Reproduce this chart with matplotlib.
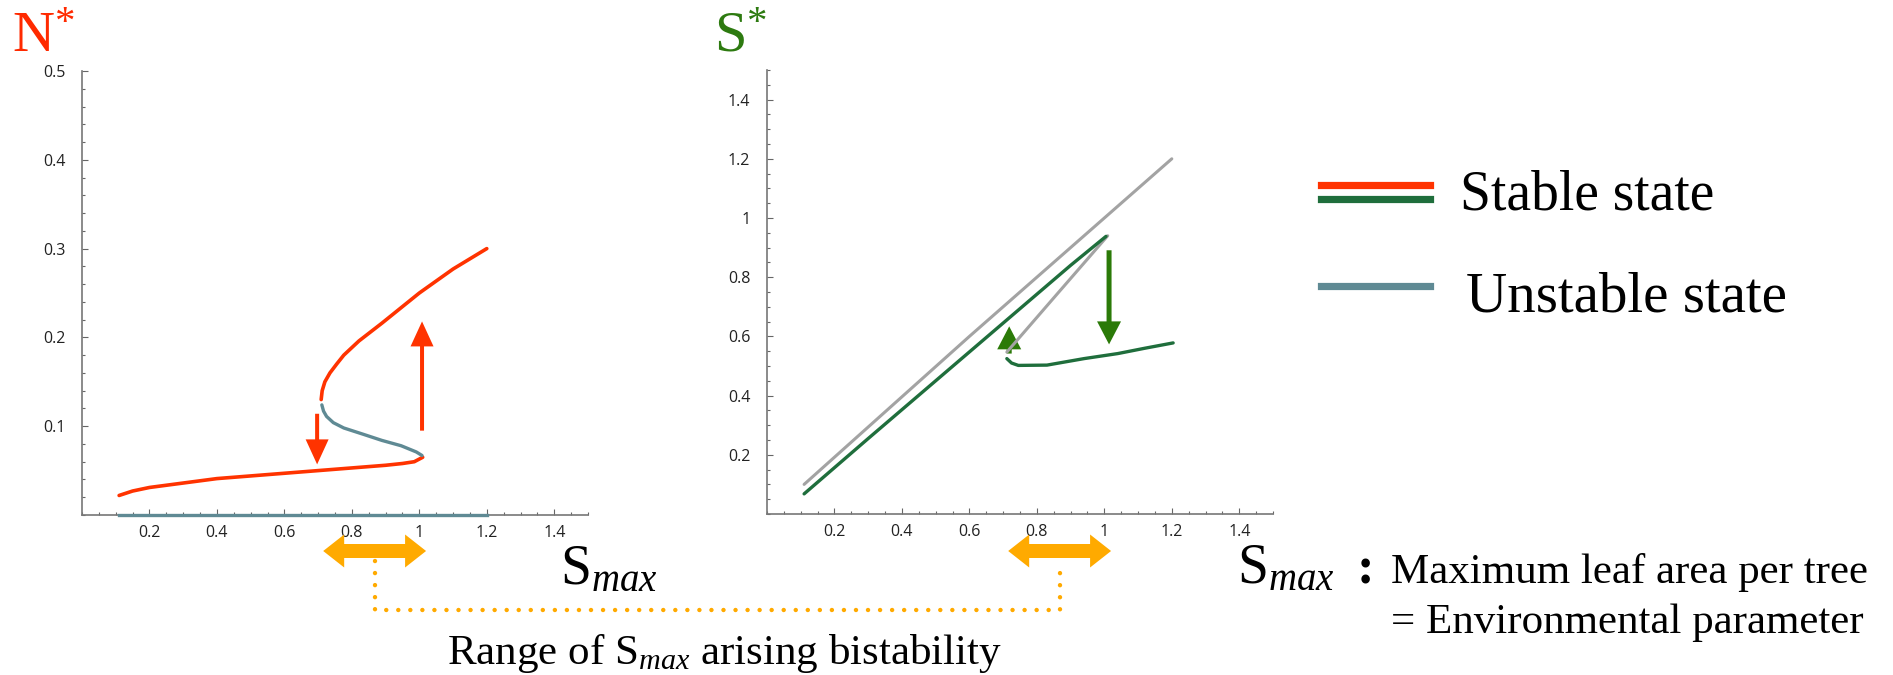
import matplotlib
matplotlib.use('Agg')
import matplotlib.pyplot as plt
import matplotlib.transforms as mtransforms
from matplotlib.patches import FancyArrow
from matplotlib.lines import Line2D
from matplotlib.ticker import MultipleLocator, FuncFormatter

plt.rcParams['mathtext.fontset'] = 'custom'
plt.rcParams['mathtext.rm'] = 'Liberation Serif'
plt.rcParams['mathtext.it'] = 'Liberation Serif:italic'
plt.rcParams['mathtext.bf'] = 'Liberation Serif:bold'

# ---- dados ----
# N* : ramo estavel inferior
smax_n_low = [0.11, 0.15, 0.2, 0.3, 0.4, 0.5, 0.6, 0.7, 0.8, 0.9, 0.95, 0.985, 1.01]
n_low = [0.022, 0.027, 0.031, 0.036, 0.041, 0.044, 0.047, 0.050, 0.053, 0.056, 0.058, 0.060, 0.065]
# N* : ramo estavel superior
smax_n_high = [0.709, 0.712, 0.72, 0.735, 0.755, 0.776, 0.821, 0.889, 1.0, 1.1, 1.2]
n_high = [0.130, 0.140, 0.150, 0.160, 0.170, 0.180, 0.196, 0.216, 0.250, 0.277, 0.300]
# N* : ramo instavel
smax_n_unst = [0.711, 0.716, 0.725, 0.745, 0.776, 0.833, 0.889, 0.946, 0.991, 1.008]
n_unst = [0.124, 0.117, 0.111, 0.104, 0.098, 0.091, 0.084, 0.078, 0.071, 0.067]
# N* = 0 (instavel)
smax_n_zero = [0.11, 1.2]
n_zero = [0.0, 0.0]

# S* : linha cinza superior (S = Smax)
smax_s_ref = [0.11, 0.6, 1.2]
s_ref = [0.10, 0.60, 1.20]
# S* : ramo estavel superior
smax_s_high = [0.11, 0.3, 0.5, 0.7, 0.9, 1.005]
s_high = [0.068, 0.255, 0.45, 0.645, 0.84, 0.938]
# S* : ramo instavel (cinza)
smax_s_unst = [0.711, 0.85, 1.01]
s_unst = [0.547, 0.73, 0.94]
# S* : ramo estavel inferior
smax_s_low = [0.711, 0.725, 0.745, 0.83, 0.94, 1.04, 1.12, 1.204]
s_low = [0.525, 0.510, 0.502, 0.503, 0.525, 0.542, 0.560, 0.578]

# setas (x, y_inicio, y_fim)
n_arrow_down = (0.697, 0.114, 0.057)
n_arrow_up = (1.008, 0.095, 0.218)
s_arrow_up = (0.718, 0.542, 0.634)
s_arrow_down = (1.014, 0.891, 0.573)

bistable_range = [0.715, 1.02]

x_ticks = [0.2, 0.4, 0.6, 0.8, 1.0, 1.2, 1.4]
n_ticks = [0.1, 0.2, 0.3, 0.4, 0.5]
s_ticks = [0.2, 0.4, 0.6, 0.8, 1.0, 1.2, 1.4]

RED = '#ff3300'
GREEN = '#1f6e3c'
GREEN_ARROW = '#2b7a08'
TEAL = '#5f8a94'
GRAY = '#a3a3a3'
ORANGE = '#ffaa00'

W, H = 1893, 675


def fx(px):
    return px / W


def fy(py):
    return 1 - py / H


fig = plt.figure(figsize=(W / 100, H / 100), dpi=100)

ax1 = fig.add_axes([fx(82), fy(515), 506 / W, 444 / H])
ax2 = fig.add_axes([fx(767), fy(514), 506 / W, 444 / H])

fmt = FuncFormatter(lambda v, p: '%g' % round(v, 2))


def estilo(ax, ylim, yticks, yminor):
    ax.set_xlim(0, 1.5)
    ax.set_ylim(*ylim)
    ax.set_xticks(x_ticks)
    ax.set_yticks(yticks)
    ax.xaxis.set_minor_locator(MultipleLocator(0.05))
    ax.yaxis.set_minor_locator(MultipleLocator(yminor))
    ax.xaxis.set_major_formatter(fmt)
    ax.yaxis.set_major_formatter(fmt)
    for s in ['top', 'right']:
        ax.spines[s].set_visible(False)
    for s in ['left', 'bottom']:
        ax.spines[s].set_color('#777777')
        ax.spines[s].set_linewidth(1.2)
    ax.tick_params(which='both', direction='in', color='#666666', width=0.8)
    ax.tick_params(which='major', length=4.5)
    ax.tick_params(which='minor', length=2.5)
    ax.tick_params(axis='x', pad=7, labelsize=11.5, labelcolor='#222222')
    ax.tick_params(axis='y', pad=12, labelsize=11.5, labelcolor='#222222')
    for lab in ax.get_xticklabels() + ax.get_yticklabels():
        lab.set_fontfamily('Open Sans')


estilo(ax1, (0, 0.5), n_ticks, 0.02)
estilo(ax2, (0, 1.5), s_ticks, 0.05)

# painel N*
ax1.plot(smax_n_low, n_low, color=RED, lw=2.6, solid_capstyle='round')
ax1.plot(smax_n_high, n_high, color=RED, lw=2.6, solid_capstyle='round')
ax1.plot(smax_n_unst, n_unst, color=TEAL, lw=2.4, solid_capstyle='round')
ax1.plot(smax_n_zero, n_zero, color=TEAL, lw=2.4, clip_on=False, zorder=5)

ypx1 = 444 / 0.5
for x, y0, y1 in [n_arrow_down, n_arrow_up]:
    ax1.add_patch(FancyArrow(x, y0, 0, y1 - y0, width=4 / 337.5,
                             head_width=23 / 337.5, head_length=25 / ypx1,
                             length_includes_head=True, color=RED, lw=0))

# painel S*
ax2.plot(smax_s_ref, s_ref, color=GRAY, lw=2.2, solid_capstyle='round')
ax2.plot(smax_s_unst, s_unst, color=GRAY, lw=2.2, solid_capstyle='round')
ax2.plot(smax_s_high, s_high, color=GREEN, lw=2.4, solid_capstyle='round')
ax2.plot(smax_s_low, s_low, color=GREEN, lw=2.4, solid_capstyle='round')

ypx2 = 444 / 1.5
for x, y0, y1 in [s_arrow_up, s_arrow_down]:
    ax2.add_patch(FancyArrow(x, y0, 0, y1 - y0, width=5 / 337.5,
                             head_width=24 / 337.5, head_length=23 / ypx2,
                             length_includes_head=True, color=GREEN_ARROW, lw=0))

# titulos dos eixos
fig.text(fx(12), fy(52), r'$\mathrm{N}^{*}$', color='#ff2a00', fontsize=42,
         va='baseline', ha='left')
fig.text(fx(714), fy(52), r'$\mathrm{S}^{*}$', color='#2d7a10', fontsize=42,
         va='baseline', ha='left')

# setas laranja (faixa de biestabilidade)
lo, hi = bistable_range
mid = (lo + hi) / 2
y_arrow = fy(551)
centros = []
for ax in [ax1, ax2]:
    tr = mtransforms.blended_transform_factory(ax.transData, fig.transFigure)
    # duas setas que se sobrepoem um pouco no meio
    for a, b in [(mid - 0.03, hi), (mid + 0.03, lo)]:
        fig.add_artist(FancyArrow(a, y_arrow, b - a, 0, width=14 / H,
                                  head_width=33 / H, head_length=21 / 337.5,
                                  length_includes_head=True, color=ORANGE,
                                  lw=0, transform=tr))
    px = ax.transData.transform((mid, 0))[0]
    centros.append(px / W)

fig.add_artist(Line2D([centros[0], centros[0], centros[1], centros[1]],
                      [fy(561), fy(610), fy(610), fy(564)],
                      transform=fig.transFigure, color=ORANGE, lw=3.2,
                      linestyle=(0, (0.01, 2.7)), dash_capstyle='round'))

# rotulos de Smax
fig.text(fx(560), fy(584), r'$\mathrm{S}_{\mathit{max}}$', fontsize=40,
         va='baseline', ha='left')
fig.text(fx(1237), fy(583), r'$\mathrm{S}_{\mathit{max}}$', fontsize=40,
         va='baseline', ha='left')
fig.text(fx(1357), fy(583), ':', fontsize=38, fontweight='bold',
         family='Liberation Serif', va='baseline', ha='left')
fig.text(fx(1391), fy(583), 'Maximum leaf area per tree', fontsize=31,
         family='Liberation Serif', va='baseline', ha='left')
fig.text(fx(1391), fy(633), '= Environmental parameter', fontsize=31,
         family='Liberation Serif', va='baseline', ha='left')
fig.text(fx(447), fy(664), r'Range of $\mathrm{S}_{\mathit{max}}$ arising bistability',
         fontsize=31, family='Liberation Serif', va='baseline', ha='left')

# legenda
for yy, cor in [(185, RED), (199, GREEN), (286, TEAL)]:
    fig.add_artist(Line2D([fx(1321), fx(1430)], [fy(yy), fy(yy)],
                          transform=fig.transFigure, color=cor, lw=5.2))
fig.text(fx(1460), fy(210), 'Stable state', fontsize=40,
         family='Liberation Serif', va='baseline', ha='left')
fig.text(fx(1466), fy(312), 'Unstable state', fontsize=41,
         family='Liberation Serif', va='baseline', ha='left')

fig.savefig('out.png', dpi=100)
